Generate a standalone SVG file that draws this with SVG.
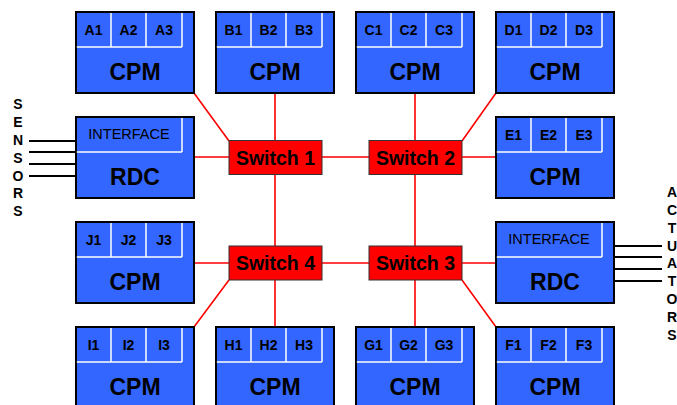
<svg xmlns="http://www.w3.org/2000/svg" width="677" height="405" viewBox="0 0 677 405">
<style>
.box{fill:#3366ff;stroke:#000;stroke-width:2}
.wl{stroke:#ffffff;stroke-width:1.5;fill:none}
.cell{font-family:"Liberation Sans",Arial,sans-serif;font-size:14px;font-weight:bold;fill:#000;text-anchor:middle}
.big{font-family:"Liberation Sans",Arial,sans-serif;font-size:23px;font-weight:bold;fill:#000;text-anchor:middle}
.intf{font-family:"Liberation Sans",Arial,sans-serif;font-size:14.5px;fill:#000;text-anchor:middle}
.sw{fill:#ff0000;stroke:#333;stroke-width:1}
.swt{font-family:"Liberation Sans",Arial,sans-serif;font-size:19.5px;font-weight:bold;fill:#000;text-anchor:middle}
.conn{stroke:#ff0000;stroke-width:1.6;fill:none}
.io{stroke:#000;stroke-width:2}
.lt{font-family:"Liberation Sans",Arial,sans-serif;font-size:14px;font-weight:bold;fill:#000;text-anchor:middle}
</style>
<defs>
<g id="cpmShape">
<rect class="box" x="0" y="0" width="118" height="81"/>
<path class="wl" d="M0.8,35 H106 M35,1 V35 M70,1 V35 M106,1 V35"/>
<text class="big" x="59" y="68">CPM</text>
</g>
<g id="rdcShape">
<rect class="box" x="0" y="0" width="118" height="81"/>
<path class="wl" d="M0.8,35 H106 M106,1 V35"/>
<text class="intf" x="53" y="22">INTERFACE</text>
<text class="big" x="59" y="68">RDC</text>
</g>
</defs>

<g id="connectors">
<path class="conn" d="M275,93 V141 M275,174 V246 M275,280 V327 M415,93 V141 M415,174 V246 M415,280 V327"/>
<path class="conn" d="M194,157 H229 M322,157 H369 M462,157 H496 M194,263 H229 M322,263 H369 M462,263 H496"/>
<path class="conn" d="M194,93 L229,141 M496,93 L462,141 M194,327 L229,280 M496,327 L462,280"/>
</g>

<g id="sensors">
<path class="io" d="M29,141 H76 M29,152 H76 M29,164 H76 M29,176 H76"/>
<text class="lt" x="18" y="109">S</text>
<text class="lt" x="18" y="127">E</text>
<text class="lt" x="18" y="145">N</text>
<text class="lt" x="18" y="163">S</text>
<text class="lt" x="18" y="181">O</text>
<text class="lt" x="18" y="198">R</text>
<text class="lt" x="18" y="216">S</text>
</g>

<g id="actuators">
<path class="io" d="M614,246 H662 M614,257 H662 M614,269 H662 M614,281 H662"/>
<text class="lt" x="672" y="197">A</text>
<text class="lt" x="672" y="215">C</text>
<text class="lt" x="672" y="233">T</text>
<text class="lt" x="672" y="251">U</text>
<text class="lt" x="672" y="268">A</text>
<text class="lt" x="672" y="286">T</text>
<text class="lt" x="672" y="304">O</text>
<text class="lt" x="672" y="322">R</text>
<text class="lt" x="672" y="340">S</text>
</g>

<g id="cpmA" transform="translate(76,12)"><use href="#cpmShape"/><text class="cell" x="17.5" y="22.5">A1</text><text class="cell" x="52.5" y="22.5">A2</text><text class="cell" x="88" y="22.5">A3</text></g>
<g id="cpmB" transform="translate(216,12)"><use href="#cpmShape"/><text class="cell" x="17.5" y="22.5">B1</text><text class="cell" x="52.5" y="22.5">B2</text><text class="cell" x="88" y="22.5">B3</text></g>
<g id="cpmC" transform="translate(356,12)"><use href="#cpmShape"/><text class="cell" x="17.5" y="22.5">C1</text><text class="cell" x="52.5" y="22.5">C2</text><text class="cell" x="88" y="22.5">C3</text></g>
<g id="cpmD" transform="translate(496,12)"><use href="#cpmShape"/><text class="cell" x="17.5" y="22.5">D1</text><text class="cell" x="52.5" y="22.5">D2</text><text class="cell" x="88" y="22.5">D3</text></g>

<g id="rdcLeft" transform="translate(76,117)"><use href="#rdcShape"/></g>
<g id="cpmE" transform="translate(496,117)"><use href="#cpmShape"/><text class="cell" x="17.5" y="22.5">E1</text><text class="cell" x="52.5" y="22.5">E2</text><text class="cell" x="88" y="22.5">E3</text></g>

<g id="cpmJ" transform="translate(76,222)"><use href="#cpmShape"/><text class="cell" x="17.5" y="22.5">J1</text><text class="cell" x="52.5" y="22.5">J2</text><text class="cell" x="88" y="22.5">J3</text></g>
<g id="rdcRight" transform="translate(496,222)"><use href="#rdcShape"/></g>

<g id="cpmI" transform="translate(76,327)"><use href="#cpmShape"/><text class="cell" x="17.5" y="22.5">I1</text><text class="cell" x="52.5" y="22.5">I2</text><text class="cell" x="88" y="22.5">I3</text></g>
<g id="cpmH" transform="translate(216,327)"><use href="#cpmShape"/><text class="cell" x="17.5" y="22.5">H1</text><text class="cell" x="52.5" y="22.5">H2</text><text class="cell" x="88" y="22.5">H3</text></g>
<g id="cpmG" transform="translate(356,327)"><use href="#cpmShape"/><text class="cell" x="17.5" y="22.5">G1</text><text class="cell" x="52.5" y="22.5">G2</text><text class="cell" x="88" y="22.5">G3</text></g>
<g id="cpmF" transform="translate(496,327)"><use href="#cpmShape"/><text class="cell" x="17.5" y="22.5">F1</text><text class="cell" x="52.5" y="22.5">F2</text><text class="cell" x="88" y="22.5">F3</text></g>

<g id="switch1"><rect class="sw" x="229" y="140.5" width="93" height="34"/><text class="swt" x="275.5" y="164.5">Switch 1</text></g>
<g id="switch2"><rect class="sw" x="369" y="140.5" width="93" height="34"/><text class="swt" x="415.5" y="164.5">Switch 2</text></g>
<g id="switch4"><rect class="sw" x="229" y="246" width="93" height="34"/><text class="swt" x="275.5" y="270">Switch 4</text></g>
<g id="switch3"><rect class="sw" x="369" y="246" width="93" height="34"/><text class="swt" x="415.5" y="270">Switch 3</text></g>
</svg>
